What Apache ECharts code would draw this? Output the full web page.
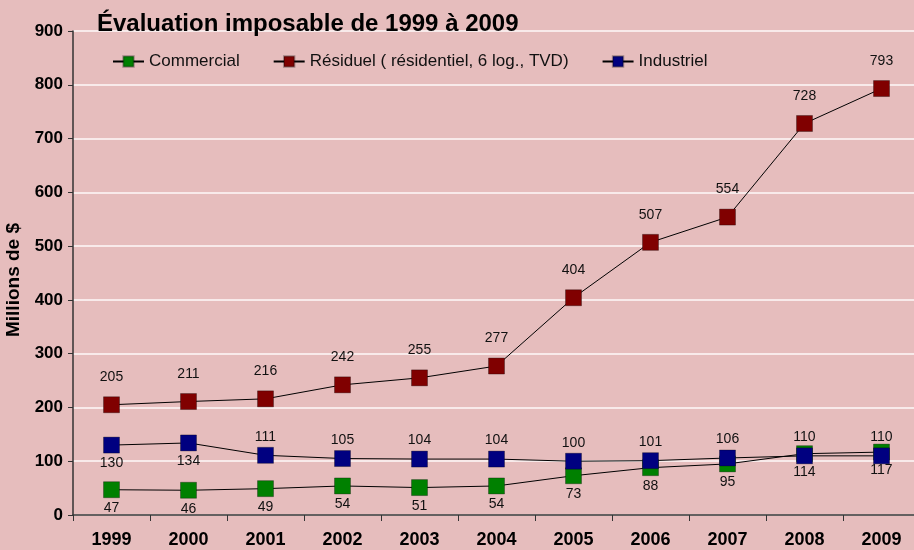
<!DOCTYPE html>
<html><head><meta charset="utf-8">
<script src="https://cdn.jsdelivr.net/npm/echarts@6/dist/echarts.min.js"></script>
<style>html,body{margin:0;padding:0;background:#E6BDBD}#c{width:914px;height:550px}</style>
</head><body><div id="c"></div>
<script>
const categories = ['1999','2000','2001','2002','2003','2004','2005','2006','2007','2008','2009'];
const commercial = [47,46,49,54,51,54,73,88,95,114,117];
const residuel = [205,211,216,242,255,277,404,507,554,728,793];
const industriel = [130,134,111,105,104,104,100,101,106,110,110];
const industrielLabelPos = ['bottom','bottom','top','top','top','top','top','top','top','top','top'];

const chart = echarts.init(document.getElementById('c'));
const font = 'Liberation Sans, Arial, sans-serif';
function ser(name, data, color, pos, dist) {
  return {
    name, type: 'line', data: data.map((v, i) => ({
      value: v,
      label: { position: Array.isArray(pos) ? pos[i] : pos }
    })),
    symbol: 'rect', symbolSize: 16,
    itemStyle: { color: color, borderColor: 'rgba(0,0,0,0.3)', borderWidth: 1 },
    lineStyle: { color: '#000', width: 1 },
    label: { show: true, distance: dist, color: '#111', fontSize: 14, fontFamily: font },
    animation: false
  };
}
chart.setOption({
  backgroundColor: '#E6BDBD',
  animation: false,
  title: { text: 'Évaluation imposable de 1999 à 2009', left: 92, top: 7,
    textStyle: { fontSize: 24, fontWeight: 'bold', color: '#000', fontFamily: font } },
  legend: { top: 48, left: 107, itemWidth: 31, itemHeight: 13, itemGap: 33,
    textStyle: { fontSize: 17, color: '#111', fontFamily: font },
    data: ['Commercial', 'Résiduel ( résidentiel, 6 log., TVD)', 'Industriel'] },
  grid: { left: 73, top: 31, width: 847, height: 484, containLabel: false, outerBoundsMode: 'none' },
  xAxis: { type: 'category', data: categories, boundaryGap: true,
    axisLine: { lineStyle: { color: '#333', width: 1.5 } },
    axisTick: { show: true, alignWithLabel: false, length: 6, lineStyle: { color: '#333' } },
    axisLabel: { fontSize: 18, fontWeight: 'bold', color: '#000', fontFamily: font, margin: 16 } },
  yAxis: { type: 'value', min: 0, max: 900, interval: 100,
    axisLine: { show: true, lineStyle: { color: '#333', width: 1.5 } },
    axisTick: { show: true, length: 5, lineStyle: { color: '#333' } },
    axisLabel: { fontSize: 17, fontWeight: 'bold', color: '#000', fontFamily: font, margin: 10 },
    splitLine: { show: true, lineStyle: { color: '#F8EAEA', width: 2 } } },
  graphic: [{ type: 'text', left: 4, top: 223, rotation: Math.PI / 2,
    style: { text: 'Millions de $', fontSize: 19, fontWeight: 'bold', fill: '#000', fontFamily: font } }],
  series: [
    ser('Commercial', commercial, '#008000', 'bottom', 3),
    ser('Résiduel ( résidentiel, 6 log., TVD)', residuel, '#800000', 'top', 12),
    ser('Industriel', industriel, '#000080', industrielLabelPos, 3)
  ]
});
</script></body></html>
